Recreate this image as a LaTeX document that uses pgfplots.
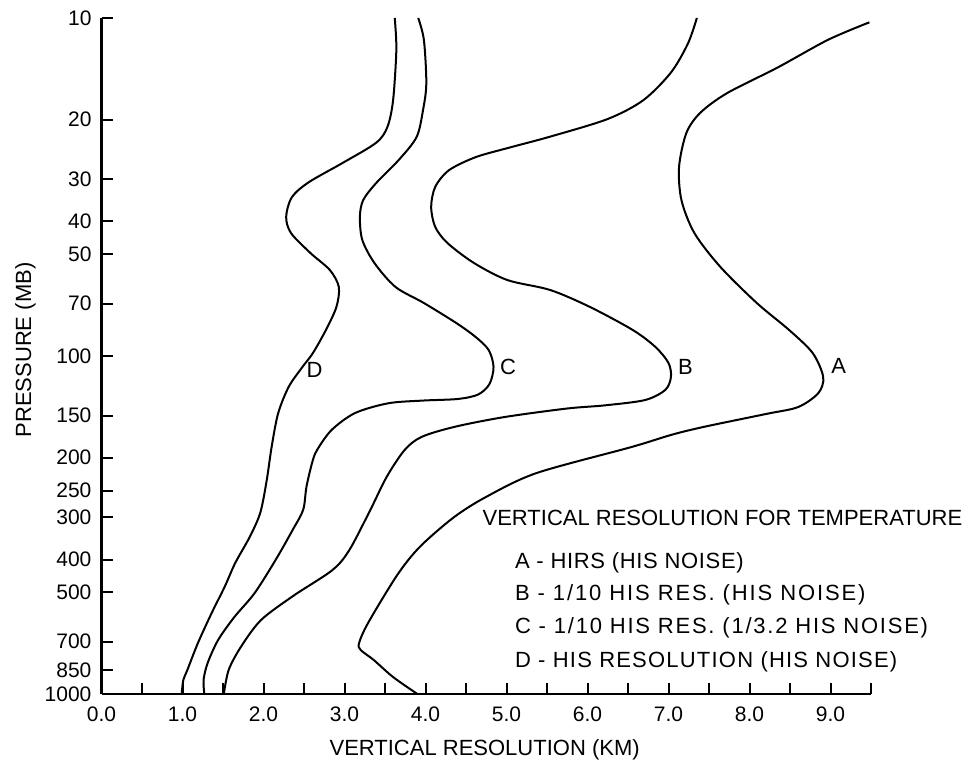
\documentclass[border=0pt]{standalone}
\usepackage{fontspec}
\setmainfont{Liberation Sans}
\usepackage{pgfplots}
\pgfplotsset{compat=1.18}

\begin{document}
\begin{tikzpicture}[x=1pt,y=1pt]
\path[use as bounding box] (0,0) rectangle (486.5,382);
\begin{axis}[
    at={(50.75pt,35pt)}, anchor=south west,
    scale only axis, width=384.75pt, height=338pt,
    xmin=0, xmax=9.5, ymin=10, ymax=1000,
    ymode=log, y dir=reverse,
    axis lines=left,
    axis line style={line width=1.2pt, -},
    tick align=inside,
    major tick length=5.5pt, minor tick length=5.5pt,
    tick style={black, line width=1pt},
    xtick={0,1,...,9},
    minor xtick={0.5,1.5,...,9.5},
    ytick={10,20,30,40,50,70,100,150,200,250,300,400,500,700,850,1000},
    yticklabels={10,20,30,40,50,70,100,150,200,250,300,400,500,700,850,1000},
    minor ytick={},
    xticklabel style={yshift=-3pt, /pgf/number format/fixed, /pgf/number format/fixed zerofill,
        /pgf/number format/precision=1, /pgf/number format/assume math mode=true},
    yticklabel style={xshift=-1.5pt},
    ticklabel style={font=\fontsize{10.5}{12}\selectfont},
    clip=false,
]
% D - HIS resolution (HIS noise)
\addplot[black, line width=1pt, smooth] coordinates {
(3.62,10) (3.64,12.4) (3.60,17.5) (3.53,21.0) (3.39,23.4) (2.97,26.9) (2.56,30.6)
(2.35,33.9) (2.28,38.8) (2.34,43.3) (2.58,49.6) (2.82,55.7) (2.93,62.5) (2.90,71.6)
(2.77,83.8) (2.61,98) (2.48,107.8) (2.31,123.5) (2.18,148) (2.10,186)
(2.04,233) (1.96,291) (1.83,343) (1.65,410) (1.52,482) (1.36,576) (1.19,707)
(1.06,849) (1.01,909) (0.99,1000)
};
% C - 1/10 HIS res. (1/3.2 HIS noise)
\addplot[black, line width=1pt, smooth] coordinates {
(3.91,10) (3.98,11.6) (4.01,15.6) (3.97,18.7) (3.89,22.5) (3.67,26.3) (3.39,30.8)
(3.23,34.6) (3.19,38.8) (3.22,45.4) (3.37,53.1) (3.63,62.5) (3.98,69.7) (4.38,79.9)
(4.62,87.9) (4.78,96) (4.84,107.8) (4.79,121) (4.65,130) (4.40,134) (3.96,135.5)
(3.54,138) (3.13,147.5) (2.84,165.6) (2.66,190) (2.60,207) (2.53,244) (2.49,285)
(2.36,327) (2.15,401) (1.89,503) (1.64,592) (1.44,692) (1.31,810) (1.26,909) (1.27,1000)
};
% B - 1/10 HIS res. (HIS noise)
\addplot[black, line width=1pt, smooth] coordinates {
(7.35,10) (7.24,11.9) (7.03,14.5) (6.69,17.5) (6.25,19.9) (5.55,22.4)
(5.03,24.2) (4.62,25.8) (4.29,28.2) (4.12,31.6) (4.07,36.2) (4.12,41.5)
(4.27,46.3) (4.60,53.1) (5.01,59.6) (5.54,63.8) (6.03,71.6) (6.56,83.8) (6.84,94.1)
(7.00,104.9) (7.03,115.4) (6.96,126) (6.71,135) (6.21,140) (5.75,143)
(4.98,151.5) (4.36,162) (3.95,173.6) (3.74,190) (3.52,228) (3.32,285) (3.06,375)
(2.85,430) (2.37,512) (1.97,604) (1.72,726) (1.57,849) (1.51,1000)
};
% A - HIRS (HIS noise)
\addplot[black, line width=1pt, smooth] coordinates {
(9.48,10.3) (8.97,11.6) (8.35,14) (7.72,16.7) (7.39,19.1) (7.22,21.9) (7.13,27.6)
(7.16,34.6) (7.32,43.3) (7.64,54.5) (8.09,69.7) (8.49,83.8) (8.78,98) (8.91,115.4)
(8.85,128.7) (8.60,141.6) (8.20,148.5) (7.44,162) (7.04,171) (6.54,186)
(5.37,222) (4.75,261) (4.35,300) (3.93,367) (3.65,445) (3.29,617)
(3.18,707) (3.20,741) (3.36,793) (3.60,891) (3.90,1000)
};
\begin{scope}[every node/.style={inner sep=0pt, font=\fontsize{11}{13}\selectfont}]
\node at (axis cs:2.63,110) {D};
\node at (axis cs:5.02,108) {C};
\node at (axis cs:7.21,108) {B};
\node at (axis cs:9.10,107) {A};
\node[anchor=west] at (axis cs:4.70,301) {VERTICAL RESOLUTION FOR TEMPERATURE};
\node[anchor=west] at (axis cs:5.10,410) {\addfontfeatures{LetterSpace=3}A - HIRS (HIS NOISE)};
\node[anchor=west] at (axis cs:5.10,510) {\addfontfeatures{LetterSpace=8.5}B - 1/10 HIS RES. (HIS NOISE)};
\node[anchor=west] at (axis cs:5.10,638) {\addfontfeatures{LetterSpace=8}C - 1/10 HIS RES. (1/3.2 HIS NOISE)};
\node[anchor=west] at (axis cs:5.10,804) {\addfontfeatures{LetterSpace=5.5}D - HIS RESOLUTION (HIS NOISE)};
\node at ([yshift=-28pt]axis cs:4.73,1000) {VERTICAL RESOLUTION (KM)};
\node[rotate=90] at ([xshift=-38pt]axis cs:0,96) {PRESSURE (MB)};
\end{scope}
\end{axis}
\end{tikzpicture}
\end{document}
